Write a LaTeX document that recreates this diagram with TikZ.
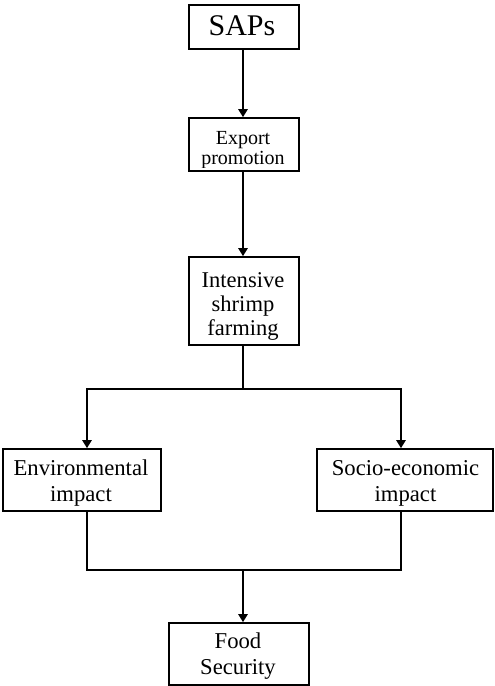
\documentclass[tikz,border=0pt]{standalone}
\usepackage{fontspec}
\setmainfont{Liberation Serif}
\usetikzlibrary{arrows.meta}
\begin{document}
\begin{tikzpicture}[x=0.75pt,y=-0.75pt,
  box/.style={draw,line width=1.3pt,inner sep=0pt,minimum width=#1},
  txt/.style={inner sep=0pt,align=center,anchor=base},
  link/.style={line width=1.3pt},
  arr/.style={line width=1.3pt,-{Triangle[length=6pt,width=7pt]}}]
\useasboundingbox (0,0) rectangle (494,686);
% boxes
\node[box=82.5pt,minimum height=33pt] (saps) at (244,27) {};
\node[box=82.5pt,minimum height=39.75pt] (exp) at (244,144.5) {};
\node[box=82.5pt,minimum height=66pt] (ints) at (244,301) {};
\node[box=118.5pt,minimum height=46.5pt] (env) at (82,480) {};
\node[box=132pt,minimum height=46.5pt] (soc) at (405,480) {};
\node[box=105pt,minimum height=46.5pt] (food) at (239,654) {};
% texts (base anchor = baseline of the last line)
\node[txt,font=\fontsize{22.5}{24}\selectfont] (tsaps) at (242,35) {SAPs};
\begin{scope}
\clip (exp.north west) rectangle ([yshift=3.6pt]exp.south east);
\node[txt,font=\fontsize{15}{15}\selectfont] (texp) at (243,164) {Export\\promotion};
\end{scope}
\begin{scope}
\clip (ints.north west) rectangle (ints.south east);
\node[txt,font=\fontsize{16.9}{18}\selectfont] (tints) at (243,335) {Intensive\\shrimp\\farming};
\end{scope}
\node[txt,font=\fontsize{17}{19}\selectfont] (tenv) at (81,501) {Environmental\\impact};
\node[txt,font=\fontsize{17}{19}\selectfont] (tsoc) at (405.5,501) {Socio-economic\\impact};
\node[txt,font=\fontsize{17}{19.5}\selectfont] (tfood) at (238,674.3) {Food\\Security};
% connector coordinates
\coordinate (mid) at (243,0);
\coordinate (lx) at (87,0);
\coordinate (rx) at (401,0);
\coordinate (split) at (243,389);
\coordinate (merge) at (243,570);
% connectors
\draw[arr] (saps.south -| mid) -- (exp.north -| mid);
\draw[arr] (exp.south -| mid) -- (ints.north -| mid);
\draw[link] (ints.south -| mid) -- (split);
\draw[arr] (split) -| (env.north -| lx);
\draw[arr] (split) -| (soc.north -| rx);
\draw[link] (env.south -| lx) |- (merge);
\draw[link] (soc.south -| rx) |- (merge);
\draw[arr] (merge) -- (food.north -| merge);
\end{tikzpicture}
\end{document}
